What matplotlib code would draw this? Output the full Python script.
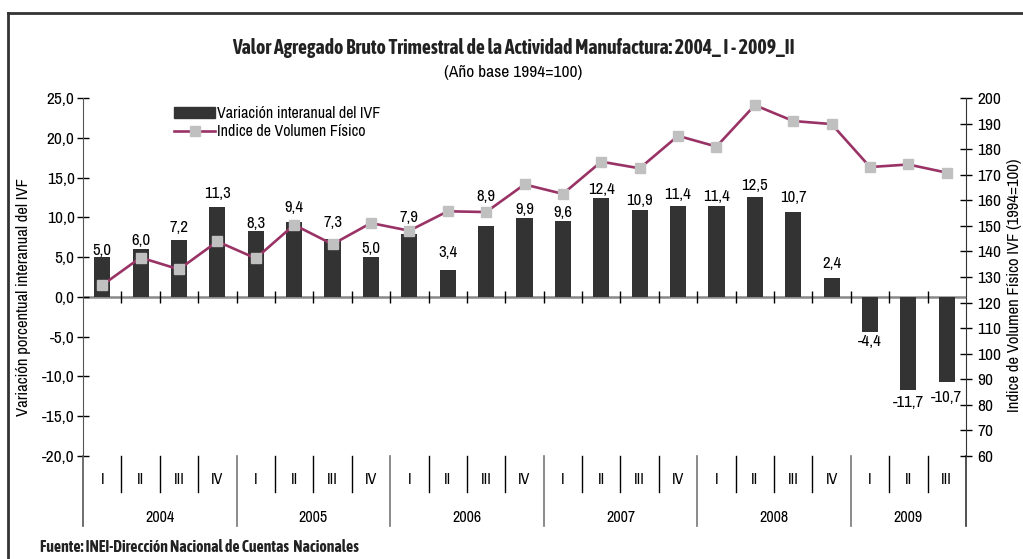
import numpy as np
import matplotlib
matplotlib.use("Agg")
import matplotlib.pyplot as plt
from matplotlib import font_manager
import matplotlib.patheffects as pe
from matplotlib.patches import Patch
from matplotlib.lines import Line2D
from matplotlib.ticker import FuncFormatter

# pick a narrow font if one is installed
ttf = font_manager.fontManager.ttflist
installed = sorted({f.name for f in ttf})
narrow = [n for n in installed if "Narrow" in n or "Condensed" in n]


def _w(f):
    w = f.weight
    return w if isinstance(w, int) else font_manager.weight_dict.get(w, 400)


narrow_bold = [n for n in narrow if any(f.name == n and _w(f) >= 600 for f in ttf)]
family = (narrow[:1] or ["Liberation Sans"]) + ["DejaVu Sans"]
plt.rcParams['font.family'] = family
if narrow_bold:
    bold_kw = dict(family=[narrow_bold[0], "DejaVu Sans"], fontweight="bold")
else:
    bold_kw = dict(fontweight="bold",
                   path_effects=[pe.withStroke(linewidth=0.7, foreground="#111111")])

# data
years = ["2004", "2005", "2006", "2007", "2008", "2009"]
quarters = ["I", "II", "III", "IV"] * 5 + ["I", "II", "III"]
var_ivf = [5.0, 6.0, 7.2, 11.3, 8.3, 9.4, 7.3, 5.0, 7.9, 3.4, 8.9, 9.9,
           9.6, 12.4, 10.9, 11.4, 11.4, 12.5, 10.7, 2.4, -4.4, -11.7, -10.7]
ivf = [126.8, 137.6, 133.0, 143.9, 137.3, 150.4, 142.8, 151.1, 148.1, 155.7, 155.4, 166.2,
       162.5, 175.1, 172.5, 185.2, 181.0, 197.2, 191.0, 189.8, 173.0, 174.0, 170.8]
quarters_per_year = [4, 4, 4, 4, 4, 3]

# label nudges (pixels from bar end to label centre)
label_dy = [7, 9, 12, 13, 7, 15, 16, 9, 17, 17, 30, 9,
            8, 9, 10, 12, 10, 12, 14, 14, 10, 13, 15]

BAR = "#333333"
LINE = "#993366"
MARK = "#c0c0c0"
W, H = 1023, 559

fig = plt.figure(figsize=(10.23, 5.59), dpi=100)
ax = fig.add_axes([83 / W, (H - 456) / H, (966 - 83) / W, (456 - 98) / H])
ax2 = ax.twinx()

x = np.arange(len(var_ivf))
ax.bar(x, var_ivf, width=0.42, color=BAR, zorder=2)
ax2.plot(x, ivf, color=LINE, lw=1.9, marker="s", ms=6.6, mfc=MARK, mec=MARK, zorder=3)
ax.set_zorder(1); ax2.set_zorder(2); ax2.patch.set_visible(False)

ax.set_xlim(-0.5, len(x) - 0.5)
ax.set_ylim(-20, 25)
ax2.set_ylim(60, 200)
ax.set_yticks(np.arange(-20, 26, 5))
ax2.set_yticks(np.arange(60, 201, 10))
ax.yaxis.set_major_formatter(FuncFormatter(lambda v, p: f"{v:.1f}".replace(".", ",")))

for a in (ax, ax2):
    for s in ("top", "bottom"):
        a.spines[s].set_visible(False)
ax2.spines["left"].set_visible(False)
ax.spines["right"].set_visible(False)
ax.spines["left"].set_color("#555555")
ax2.spines["right"].set_color("#333333")
fs = 12.5 if narrow else 10.5
ax.tick_params(axis="y", direction="inout", length=9, width=1, labelsize=fs, pad=1.5)
ax2.tick_params(axis="y", direction="inout", length=8, width=1, labelsize=fs, pad=4)

# zero line with boundary ticks
ax.axhline(0, color="#888888", lw=1.8, zorder=1)
ax.set_xticks([])
tr = ax.get_xaxis_transform()
ax.plot(np.arange(0.5, len(x) - 0.5, 1), np.zeros(len(x) - 1), ls="none",
        marker="|", ms=8, mew=1, color="black", zorder=4)

# extend spines and category axis below the plot
ext = -70 / 358
for xs, col in ((-0.5, "#555555"), (len(x) - 0.5, "#333333")):
    ax.plot([xs, xs], [0, ext], transform=tr, color=col, lw=1.2, clip_on=False)

cat_fs = fs - 1
starts = np.cumsum([0] + quarters_per_year)
for i, q in enumerate(quarters):
    ax.text(i, -24 / 358, q, transform=tr, ha="center", va="center", fontsize=cat_fs)
    if i > 0 and i not in starts:
        ax.plot([i - 0.5, i - 0.5], [0, -36 / 358], transform=tr, color="black",
                lw=1, clip_on=False)
for k, yr in enumerate(years):
    s0, s1 = starts[k], starts[k + 1]
    ax.text((s0 + s1 - 1) / 2, -61 / 358, yr, transform=tr, ha="center", va="center",
            fontsize=cat_fs)
    if k > 0:
        ax.plot([s0 - 0.5, s0 - 0.5], [0, ext], transform=tr, color="#777777",
                lw=1.2, clip_on=False)

# bar labels
for i, (v, dy) in enumerate(zip(var_ivf, label_dy)):
    txt = f"{v:.1f}".replace(".", ",")
    ax.annotate(txt, (i, v), xytext=(0, dy if v >= 0 else -dy), textcoords="offset pixels",
                ha="center", va="center", fontsize=fs - 0.5, zorder=5)

# axis titles
fig.text(24 / W, 1 - 297 / H, "Variación porcentual interanual del IVF", rotation=90,
         ha="center", va="center", fontsize=fs - 0.5)
fig.text(1015 / W, 1 - 285 / H, "Indice de Volumen Físico IVF (1994=100)", rotation=90,
         ha="center", va="center", fontsize=fs - 0.5)

# titles
fig.text(513 / W, 1 - 48 / H,
         "Valor Agregado Bruto Trimestral de la Actividad Manufactura: 2004_ I - 2009_II",
         ha="center", va="center", fontsize=14.2 if narrow else 11, color="#222222", **bold_kw)
fig.text(513 / W, 1 - 72 / H, "(Año base 1994=100)", ha="center", va="center", fontsize=fs)
fig.text(40 / W, 1 - 547 / H, "Fuente: INEI-Dirección Nacional de Cuentas  Nacionales",
         ha="left", va="center", fontsize=11.3 if narrow else 8, color="#222222", **bold_kw)

# legend
lfs = fs - 1
handles = [Patch(color=BAR),
           Line2D([], [], color=LINE, lw=1.9, marker="s", ms=6.6, mfc=MARK, mec=MARK)]
fig.legend(handles, ["Variación interanual del IVF", "Indice de Volumen Físico"],
           loc="upper left", bbox_to_anchor=(174 / W, 1 - 106 / H), frameon=False,
           fontsize=lfs, handlelength=41 / (lfs * 100 / 72), handletextpad=0.15,
           labelspacing=0.2, borderpad=0, borderaxespad=0)

# outer frame (cropped at right/bottom)
fig.add_artist(Line2D([8 / W, 8 / W], [0, 1 - 13 / H], color="#333333", lw=2))
fig.add_artist(Line2D([8 / W, 1], [1 - 13 / H, 1 - 13 / H], color="#333333", lw=2))

fig.savefig("out.png", dpi=100)
